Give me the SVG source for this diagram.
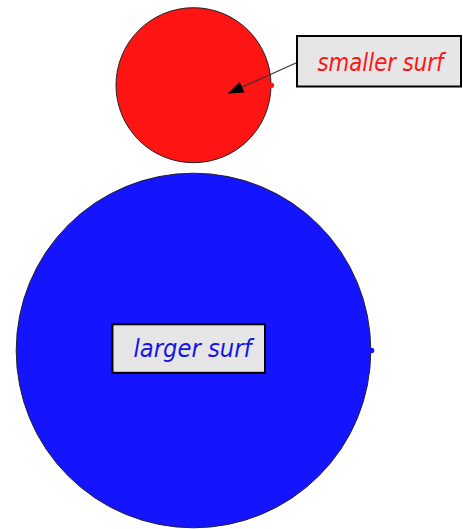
<svg xmlns="http://www.w3.org/2000/svg" width="463" height="529" viewBox="0 0 463 529">
<style>
.lbl{fill:#e6e6e6;stroke:#000;stroke-width:2}
.txt{font-family:"DejaVu Sans","Liberation Sans",sans-serif;font-style:italic;text-anchor:middle}
</style>
<defs>
<marker id="ah" markerWidth="16" markerHeight="12" refX="15" refY="6" orient="auto" markerUnits="userSpaceOnUse">
<path d="M0,0 L16,6 L0,12 Z" fill="#000"/>
</marker>
</defs>
<rect width="463" height="529" fill="#fff"/>
<g id="larger">
<circle cx="193.5" cy="350.5" r="177.3" fill="#1414ff" stroke="#222" stroke-width="1"/>
<circle cx="371.5" cy="350.5" r="2.8" fill="#1414ff"/>
</g>
<g id="smaller">
<circle cx="193.5" cy="85.2" r="77.5" fill="#ff1414" stroke="#222" stroke-width="1"/>
<circle cx="271.3" cy="85.3" r="2.8" fill="#ff1414"/>
</g>
<g id="connectors">
<line x1="297" y1="62.5" x2="228.5" y2="93.3" stroke="#333" stroke-width="1.2" marker-end="url(#ah)"/>
</g>
<g id="label-smaller">
<rect class="lbl" x="297" y="36" width="164" height="50.5"/>
<text class="txt" x="380.5" y="70.5" font-size="24" fill="#ff1414" textLength="126" lengthAdjust="spacingAndGlyphs">smaller surf</text>
</g>
<g id="label-larger">
<rect class="lbl" x="112.5" y="324.3" width="152.5" height="48.5"/>
<text class="txt" x="192.5" y="356.5" font-size="24" fill="#1414e6" textLength="118" lengthAdjust="spacingAndGlyphs">larger surf</text>
</g>
</svg>
